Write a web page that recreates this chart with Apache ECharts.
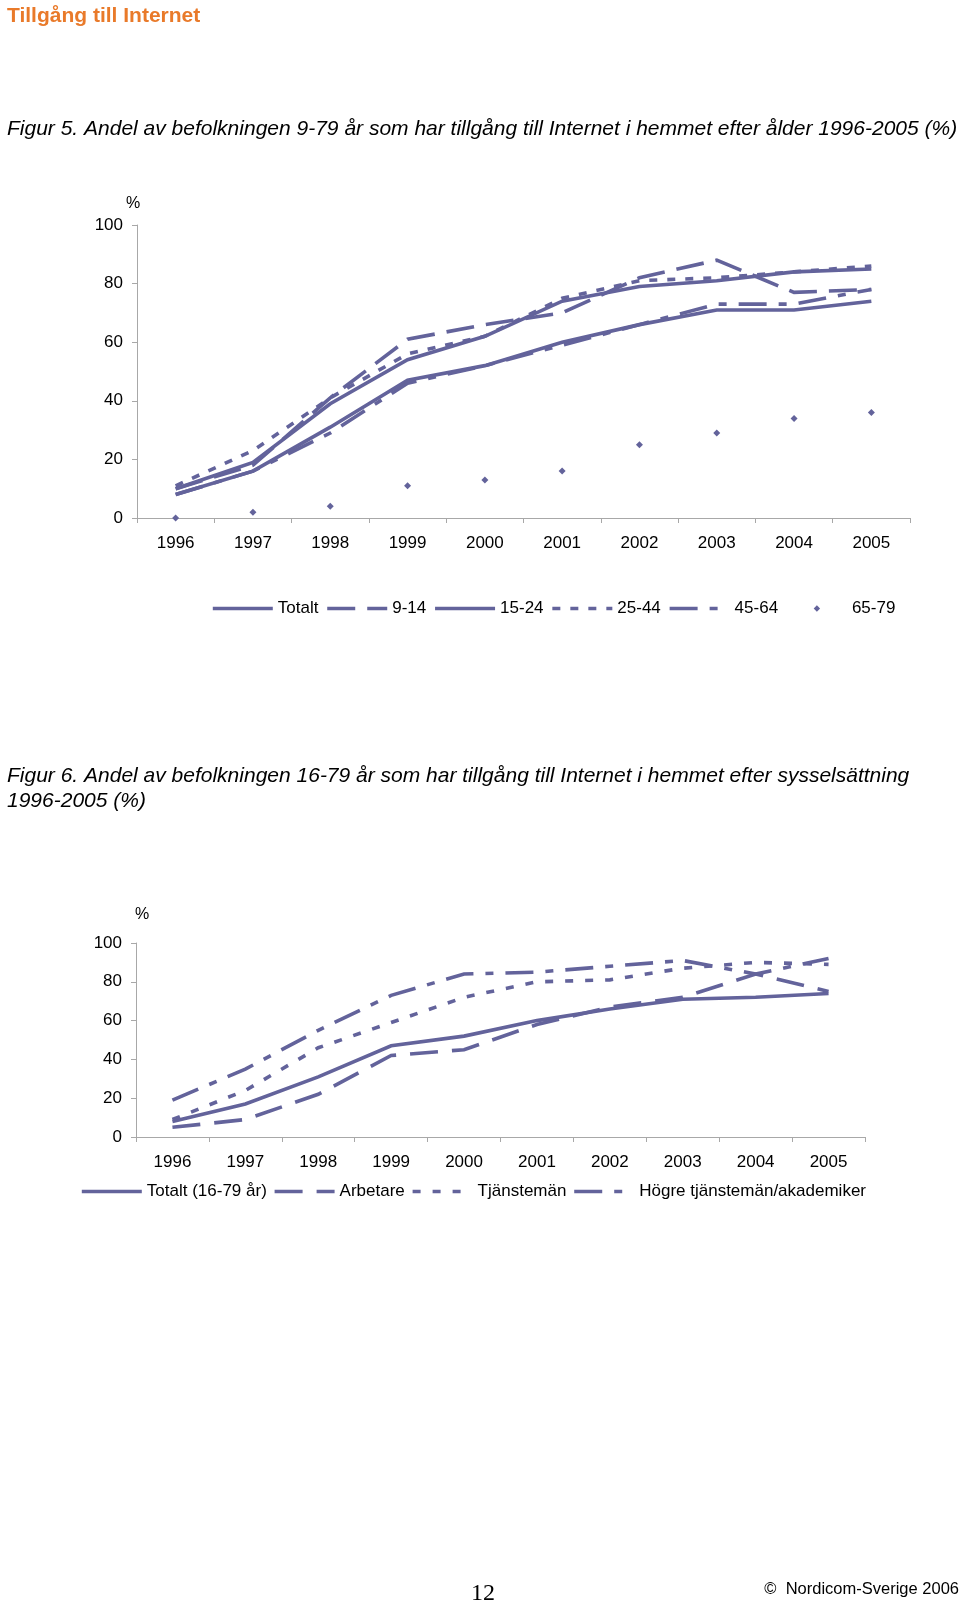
<!DOCTYPE html>
<html><head><meta charset="utf-8">
<script src="https://cdn.jsdelivr.net/npm/echarts@6/dist/echarts.min.js"></script>
<style>html,body{margin:0;padding:0;background:#fff}#c{width:960px;height:1604px}</style>
</head><body><div id="c"></div>
<script>
// ---- Data: Figur 5 (age groups) ----
const years = ['1996','1997','1998','1999','2000','2001','2002','2003','2004','2005'];
const yTicks1 = [0, 20, 40, 60, 80, 100];
const totalt   = [8, 16, 31, 47, 52, 60, 66, 71, 71, 74];
const age9_14  = [10, 18, 41, 61, 66, 70, 82, 88, 77, 78];
const age15_24 = [10, 19, 39, 54, 62, 74, 79, 81, 84, 85];
const age25_44 = [11, 23, 41, 56, 62, 75, 81, 82, 84, 86];
const age45_64 = [8, 16, 29, 46, 52, 59, 66, 73, 73, 78];
const age65_79 = [0, 2, 4, 11, 13, 16, 25, 29, 34, 36];
// ---- Data: Figur 6 (occupation) ----
const totalt16_79 = [8, 17, 31, 47, 52, 60, 66, 71, 72, 74];
const arbetare    = [5, 9, 22, 42, 45, 58, 67, 72, 84, 75];
const tjanstemen  = [9, 24, 46, 59, 72, 80, 81, 87, 90, 89];
const hogre       = [19, 35, 55, 73, 84, 85, 88, 91, 84, 92];

const names1 = ['Totalt', '9-14', '15-24', '25-44', '45-64', '65-79'];
const names2 = ['Totalt (16-79 år)', 'Arbetare', 'Tjänstemän', 'Högre tjänstemän/akademiker'];

const C = '#63639b';
const FF = 'Liberation Sans';
const AX = '#a8a8a8';

function lineSeries(name, data, dash, gi) {
  return {
    type: 'line', name, data, xAxisIndex: gi, yAxisIndex: gi,
    symbol: 'none', showSymbol: false, silent: true,
    lineStyle: { color: C, width: 3.6, type: dash, cap: 'butt', join: 'miter' },
    itemStyle: { color: C },
    emphasis: { disabled: true }
  };
}

function xAxis(gi) {
  return {
    type: 'category', data: years, gridIndex: gi, boundaryGap: true,
    axisLine: { lineStyle: { color: AX, width: 1 } },
    axisTick: { show: true, length: 5, lineStyle: { color: AX } },
    axisLabel: { color: '#000', fontSize: 17, fontFamily: FF, margin: 17 },
    splitLine: { show: false }
  };
}
function yAxis(gi) {
  return {
    type: 'value', gridIndex: gi, min: yTicks1[0], max: yTicks1[yTicks1.length - 1], interval: 20,
    axisLine: { show: true, lineStyle: { color: AX, width: 1 } },
    axisTick: { show: true, length: 5, lineStyle: { color: AX } },
    axisLabel: { color: '#000', fontSize: 17, fontFamily: FF, margin: 14 },
    splitLine: { show: false }
  };
}

const textBase = { color: '#000', fontFamily: FF, fontWeight: 'normal' };

function legendItems(names, symbolName) {
  return names.map(n => n === symbolName
    ? { name: n }
    : { name: n, itemStyle: { opacity: 0 } });
}

const option = {
  animation: false,
  backgroundColor: '#fff',
  title: [
    { text: 'Tillgång till Internet', left: 7, top: 6, padding: 0,
      textStyle: { color: '#e97a2a', fontSize: 21, fontWeight: 'bold', fontFamily: FF } },
    { text: 'Figur 5. Andel av befolkningen 9-79 år som har tillgång till Internet i hemmet efter ålder 1996-2005 (%)',
      left: 7, top: 119, padding: 0,
      textStyle: Object.assign({}, textBase, { fontSize: 21, fontStyle: 'italic' }) },
    { text: 'Figur 6. Andel av befolkningen 16-79 år som har tillgång till Internet i hemmet efter sysselsättning\n1996-2005 (%)',
      left: 7, top: 764, padding: 0,
      textStyle: Object.assign({}, textBase, { fontSize: 21, fontStyle: 'italic', lineHeight: 25 }) },
    { text: '%', left: 126, top: 196, padding: 0, textStyle: Object.assign({}, textBase, { fontSize: 16 }) },
    { text: '%', left: 135, top: 907, padding: 0, textStyle: Object.assign({}, textBase, { fontSize: 16 }) },
    { text: '12', left: 471, top: 1582, padding: 0,
      textStyle: Object.assign({}, textBase, { fontSize: 24, fontFamily: 'Liberation Serif' }) },
    { text: '©  Nordicom-Sverige 2006', right: 1, top: 1581, padding: 0,
      textStyle: Object.assign({}, textBase, { fontSize: 16.5 }) }
  ],
  grid: [
    { left: 137, right: 50, top: 225, height: 293, containLabel: false },
    { left: 136, right: 95, top: 943, height: 194, containLabel: false }
  ],
  xAxis: [xAxis(0), xAxis(1)],
  yAxis: [yAxis(0), yAxis(1)],
  legend: [
    { data: legendItems(names1, '65-79'),
      left: 211, top: 600, padding: 0, itemWidth: 60, itemHeight: 8, itemGap: 7,
      lineStyle: { width: 3.6 },
      selectedMode: false, textStyle: Object.assign({}, textBase, { fontSize: 17 }) },
    { data: legendItems(names2, null),
      left: 80, top: 1183, padding: 0, itemWidth: 60, itemHeight: 8, itemGap: 6,
      lineStyle: { width: 3.6 },
      selectedMode: false, textStyle: Object.assign({}, textBase, { fontSize: 17 }) }
  ],
  series: [
    lineSeries(names1[0], totalt, 'solid', 0),
    lineSeries(names1[1], age9_14, [28, 12], 0),
    lineSeries(names1[2], age15_24, 'solid', 0),
    lineSeries(names1[3], age25_44, [8, 10], 0),
    lineSeries(names1[4], age45_64, [28, 12, 8, 12], 0),
    {
      type: 'line', name: names1[5], data: age65_79, xAxisIndex: 0, yAxisIndex: 0,
      symbol: 'diamond', symbolSize: 7, showSymbol: true, silent: true,
      lineStyle: { color: C, width: 0, opacity: 0 },
      itemStyle: { color: C }, emphasis: { disabled: true }
    },
    lineSeries(names2[0], totalt16_79, 'solid', 1),
    lineSeries(names2[1], arbetare, [28, 14], 1),
    lineSeries(names2[2], tjanstemen, [8, 12], 1),
    lineSeries(names2[3], hogre, [28, 12, 8, 12], 1)
  ]
};

const chart = echarts.init(document.getElementById('c'), null, { renderer: 'canvas' });
chart.setOption(option);
</script>
</body></html>
